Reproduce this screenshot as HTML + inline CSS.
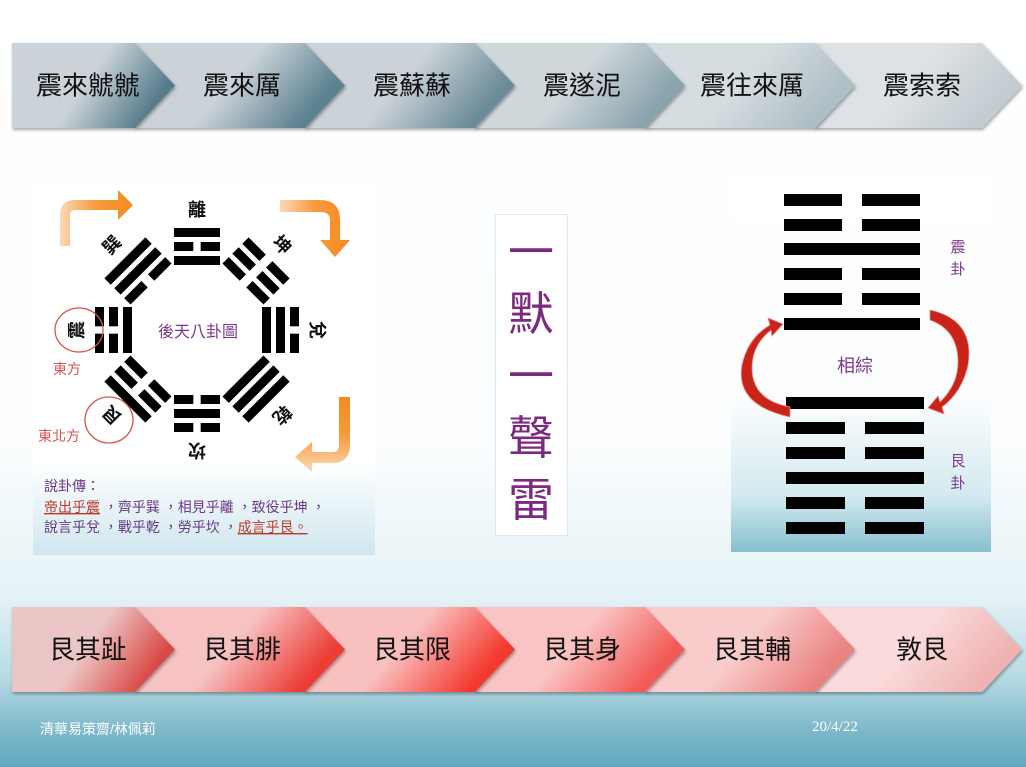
<!DOCTYPE html>
<html><head><meta charset="utf-8">
<style>
html,body{margin:0;padding:0}
body{width:1026px;height:767px;overflow:hidden;position:relative;font-family:"Liberation Sans","Noto Sans CJK TC",sans-serif;
background:linear-gradient(180deg,#ffffff 0%,#fbfdfe 58%,#e4f2f6 78%,#b9dce6 88%,#7fb9ca 95%,#62a9bd 100%);}
svg{position:absolute;left:0;top:0}
</style></head><body>
<svg id="s" width="1026" height="767" viewBox="0 0 1026 767" xmlns="http://www.w3.org/2000/svg" font-family="Liberation Sans, Noto Sans CJK TC, sans-serif">
<defs>
<linearGradient id="lp" x1="0" y1="0" x2="0" y2="1"><stop offset="0" stop-color="#fff"/><stop offset="0.75" stop-color="#fff"/><stop offset="1" stop-color="#cfe7ee"/></linearGradient>
<linearGradient id="rp" x1="0" y1="0" x2="0" y2="1"><stop offset="0" stop-color="#fff"/><stop offset="0.6" stop-color="#fbfdfe"/><stop offset="0.85" stop-color="#d3eaf0"/><stop offset="1" stop-color="#86bfcf"/></linearGradient>
<linearGradient id="og" x1="0" y1="0" x2="1" y2="0"><stop offset="0" stop-color="#fcd9b8"/><stop offset="0.5" stop-color="#f79a3c"/><stop offset="1" stop-color="#f58a1f"/></linearGradient>
<linearGradient id="og2" x1="0" y1="1" x2="0" y2="0"><stop offset="0" stop-color="#fcd9b8"/><stop offset="0.5" stop-color="#f79a3c"/><stop offset="1" stop-color="#f58a1f"/></linearGradient>
<filter id="sh" x="-5%" y="-10%" width="110%" height="130%"><feDropShadow dx="1" dy="2" stdDeviation="1.5" flood-color="#000" flood-opacity="0.35"/></filter>
</defs>
<g id="chev"></g>
<rect x="33" y="183" width="342" height="372" fill="url(#lp)"/>
<rect x="731" y="178" width="260" height="374" fill="url(#rp)"/>
<g id="bagua"></g>
<path d="M60 246 L60 215 Q60 200 75 200 L118 200 L118 190 L133 205 L118 220 L118 210 L75 210 Q70 210 70 215 L70 246 Z" fill="url(#og)"/>
<path d="M280 200 L320 200 Q340 200 340 220 L340 240 L350 240 L335 257 L320 240 L330 240 L330 220 Q330 212 320 212 L280 212 Z" fill="url(#og)"/>
<path d="M350 397 L350 445 Q350 463 332 463 L312 463 L312 472 L295 457 L312 442 L312 452 L332 452 Q339 452 339 445 L339 397 Z" fill="url(#og2)"/>
<ellipse cx="79" cy="330" rx="24" ry="22" fill="none" stroke="#d9534f" stroke-width="1.3"/>
<ellipse cx="109" cy="420" rx="24" ry="23" fill="none" stroke="#d9534f" stroke-width="1.3"/>
<text x="53" y="374" font-size="14" fill="#d9534f">東方</text>
<text x="38" y="441" font-size="14" fill="#d9534f">東北方</text>
<text x="198" y="337" font-size="16" fill="#7a3a8a" text-anchor="middle">後天八卦圖</text>
<text x="44" y="491" font-size="14" fill="#6a3a8a">說卦傳：</text>
<text x="44" y="512" font-size="14" fill="#6a3a8a"><tspan fill="#c0392b" text-decoration="underline">帝出乎震</tspan> ，齊乎巽 ，相見乎離 ，致役乎坤 ，</text>
<text x="44" y="532" font-size="14" fill="#6a3a8a">說言乎兌 ，戰乎乾 ，勞乎坎 ，<tspan fill="#c0392b" text-decoration="underline">成言乎艮。</tspan></text>
<rect x="495.5" y="214.5" width="72" height="321" fill="#fff" stroke="#dde7ec"/>
<g font-size="46" fill="#7b2a7f" text-anchor="middle">
<text x="531" y="268">一</text><text x="531" y="330">默</text><text x="531" y="392">一</text><text x="531" y="454">聲</text><text x="531" y="516">雷</text>
</g>
<g id="hex"></g>
<g font-size="15" fill="#7a3a8a" text-anchor="middle">
<text x="958" y="252">震</text><text x="958" y="274">卦</text>
<text x="958" y="466">艮</text><text x="958" y="488">卦</text>
<text x="855" y="372" font-size="18">相綜</text>
</g>
<path d="M790 417 Q735 405 742 365 Q748 338 770 325 L768 318 L783 324 L772 336 L771 330 Q752 345 752 368 Q752 400 790 407 Z" fill="#c9241a" stroke="#e88" stroke-width="0.8"/>
<path d="M930 310 Q975 320 968 365 Q962 392 942 407 L944 414 L928 408 L938 396 L940 402 Q958 385 958 362 Q958 330 930 320 Z" fill="#c9241a" stroke="#e88" stroke-width="0.8"/>
<text x="40" y="734" font-size="14" fill="#ffffff">清華易策齋/林佩莉</text>
<text x="812" y="731" font-size="15" fill="#ffffff" font-family="Liberation Serif, serif">20/4/22</text>
</svg>
<script>
(function(){
var NS="http://www.w3.org/2000/svg";
function el(t,a,p){var e=document.createElementNS(NS,t);for(var k in a)e.setAttribute(k,a[k]);if(p)p.appendChild(e);return e;}
var defs=document.querySelector('defs');
var chev=document.getElementById('chev');
var topRow=[["震來虩虩","#cbd3d8","#557c8b"],["震來厲","#cbd3d8","#5b8190"],["震蘇蘇","#cbd3d8","#6a8c99"],["震遂泥","#d0d8dc","#8aa3ad"],["震往來厲","#d6dde0","#aebec5"],["震索索","#dde2e5","#c3ccd1"]];
var botRow=[["艮其趾","#ecc6c6","#d94a44"],["艮其腓","#f6c2c2","#ec3c34"],["艮其限","#f9c0c0","#f4392e"],["艮其身","#fac4c4","#f25a55"],["艮其輔","#f9cccc","#e98380"],["敦艮","#fadada","#efb2b2"]];
function row(data,y0,y1,pref){
 var ym=(y0+y1)/2;
 for(var i=5;i>=0;i--){
  var T=175+170*i; if(i==5)T=1022;
  var L=i==0?12:(175+170*(i-1)-40);
  var g=el('linearGradient',{id:pref+i,x1:0,y1:0,x2:1,y2:0.35},defs);
  el('stop',{offset:0,'stop-color':data[i][1]},g);
  el('stop',{offset:0.55,'stop-color':data[i][1]},g);
  el('stop',{offset:1,'stop-color':data[i][2]},g);
  el('polygon',{points:L+','+y0+' '+(T-40)+','+y0+' '+T+','+ym+' '+(T-40)+','+y1+' '+L+','+y1,fill:'url(#'+pref+i+')',filter:'url(#sh)'},chev);
 }
 for(var i=0;i<6;i++){
  var cx=(i==0?12:175+170*(i-1))+(i==0?76:67);
  var t=el('text',{x:cx,y:ym+9,'font-size':26,fill:'#111','text-anchor':'middle'},chev);t.textContent=data[i][0];
 }
}
row(topRow,43,128,'tg');
row(botRow,607,692,'bg');
var bg=document.getElementById('bagua');
var tri=[["離",[1,0,1]],["坤",[0,0,0]],["兌",[0,1,1]],["乾",[1,1,1]],["坎",[0,1,0]],["艮",[1,0,0]],["震",[0,0,1]],["巽",[1,1,0]]];
for(var k=0;k<8;k++){
 var g=el('g',{transform:'translate(197,330) rotate('+(45*k)+')'},bg);
 var ys=[-102,-88,-74];var w=k%2?58:46;
 for(var j=0;j<3;j++){
  if(tri[k][1][j]) el('rect',{x:-w/2,y:ys[j],width:w,height:9,fill:'#000'},g);
  else {var s=w*0.42;el('rect',{x:-w/2,y:ys[j],width:s,height:9,fill:'#000'},g);el('rect',{x:w/2-s,y:ys[j],width:s,height:9,fill:'#000'},g);}
 }
 var t=el('text',{x:0,y:-114,'font-size':18,'font-weight':'bold','text-anchor':'middle',fill:'#111'},g);t.textContent=tri[k][0];
}
var hx=document.getElementById('hex');
function hexa(x0,x1,ys,lines){
 for(var j=0;j<6;j++){
  if(lines[j]) el('rect',{x:x0,y:ys[j],width:x1-x0,height:12,fill:'#000'},hx);
  else {var s=(x1-x0-20)/2;el('rect',{x:x0,y:ys[j],width:s,height:12,fill:'#000'},hx);el('rect',{x:x1-s,y:ys[j],width:s,height:12,fill:'#000'},hx);}
 }
}
hexa(784,920,[194,219,243,268,293,318],[0,0,1,0,0,1]);
hexa(786,924,[397,422,447,472,497,522],[1,0,0,1,0,0]);
})();
</script>
</body></html>
